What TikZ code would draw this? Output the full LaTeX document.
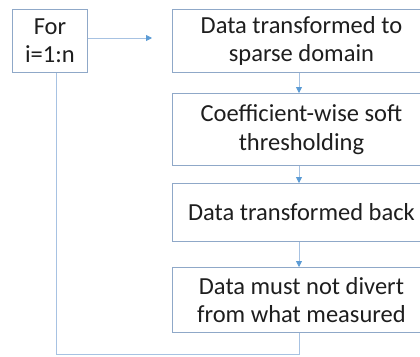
\documentclass[tikz,border=0pt]{standalone}
\usepackage{fontspec}
\setmainfont{Carlito}
\usetikzlibrary{arrows.meta}
\definecolor{boxc}{HTML}{8FA8C8}
\definecolor{linec}{HTML}{A7C2E2}
\definecolor{tipc}{HTML}{5B9BD5}
\definecolor{txt}{HTML}{1E1E1E}
\begin{document}
\begin{tikzpicture}[x=1pt,y=-1pt,
  box/.style={draw=boxc, line width=0.9pt, fill=white, text=txt,
    font=\fontsize{24.5}{28.5}\selectfont, align=center, inner sep=0pt, anchor=north west},
  conn/.style={draw=linec, line width=0.8pt},
  arr/.style={conn, -{Triangle[length=6pt,width=6pt,fill=tipc,color=tipc]}}]
\useasboundingbox (0,0) rectangle (420,356);
\fill[white] (0,0) rectangle (420,356);
\begin{scope}
\clip (0,0) rectangle (420,356);
\node[box, minimum width=75pt, minimum height=63pt] (for) at (12,9) {For\\i=1:n};
\node[box, minimum width=258pt, minimum height=63pt] (d1) at (172,9) {Data transformed to\\sparse domain};
\node[box, minimum width=258pt, minimum height=72pt] (d2) at (172,93) {Coefficient-wise soft\\thresholding};
\node[box, minimum width=258pt, minimum height=58pt] (d3) at (172,183) {Data transformed back};
\node[box, minimum width=258pt, minimum height=65pt] (d4) at (172,267) {Data must not divert\\from what measured};
\coordinate (ftip) at (152,38);
\coordinate (ax) at (299,0);
\coordinate (lx) at (56,0);
\coordinate (by) at (0,354);
\draw[arr] (for.east |- ftip) -- (ftip);
\draw[arr] (d1.south -| ax) -- (d2.north -| ax);
\draw[arr] (d2.south -| ax) -- (d3.north -| ax);
\draw[arr] (d3.south -| ax) -- (d4.north -| ax);
\draw[conn] (for.south -| lx) -- (lx |- by) -- (ax |- by) -- (d4.south -| ax);
\end{scope}
\end{tikzpicture}
\end{document}
